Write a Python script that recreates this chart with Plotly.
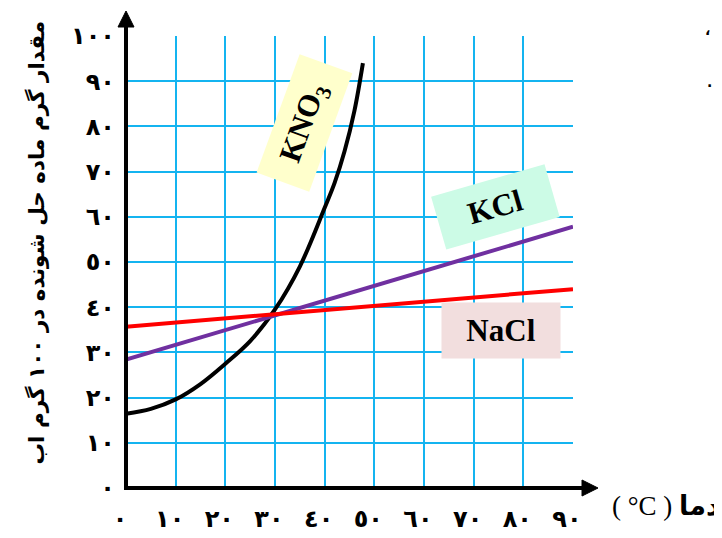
import plotly.graph_objects as go

# solubility data (g per 100 g water)
temps = [0, 90]
nacl = [35.7, 44.0]
kcl = [28.4, 57.8]

kno3_t = [0, 5, 10, 15, 20, 25, 30, 35, 40, 42, 44, 46, 47.7]
kno3 = [16.4, 17.5, 19.6, 23.0, 27.5, 32.5, 39.5, 49.0, 62.0, 67.5, 74.5, 83.5, 94.0]

x_ticks = [0, 10, 20, 30, 40, 50, 60, 70, 80, 90]
x_labels = ['٠', '١٠', '٢٠', '٣٠', '٤٠', '٥٠', '٦٠', '٧٠', '٨٠', '٩٠']
y_ticks = [0, 10, 20, 30, 40, 50, 60, 70, 80, 90, 100]
y_labels = ['٠', '١٠', '٢٠', '٣٠', '٤٠', '٥٠', '٦٠', '٧٠', '٨٠', '٩٠', '١٠٠']

# plot area in page pixels (the html body adds an 8px margin)
OFF = 8
L, R, T, B = 126, 573, 36, 488
W, H = R - L, B - T
FIG_W, FIG_H = 722 - OFF, 538 - OFF


def px(v):
    return (v - L) / W


def py(v):
    return (B - v) / H


fig = go.Figure()
fig.add_trace(go.Scatter(x=kno3_t, y=kno3, mode='lines', line=dict(color='black', width=4, shape='spline')))
fig.add_trace(go.Scatter(x=temps, y=kcl, mode='lines', line=dict(color='#7030a0', width=4)))
fig.add_trace(go.Scatter(x=temps, y=nacl, mode='lines', line=dict(color='#ff0000', width=4)))

grid = '#14b4f0'
tick_font = dict(family='DejaVu Sans', size=24, color='black', weight='bold')

fig.update_xaxes(
    range=[0, 90], tickmode='array', tickvals=x_ticks, ticktext=x_labels,
    showgrid=True, gridcolor=grid, gridwidth=2, zeroline=False, showline=False,
    ticks='', ticklabelstandoff=14, ticklabelshift=-6, tickfont=tick_font,
    automargin=False, fixedrange=True,
)
fig.update_yaxes(
    range=[0, 100], tickmode='array', tickvals=y_ticks, ticktext=y_labels,
    showgrid=True, gridcolor=grid, gridwidth=2, zeroline=False, showline=False,
    ticks='', ticklabelstandoff=10, tickfont=tick_font,
    automargin=False, fixedrange=True,
)

shapes = [
    dict(type='line', xref='paper', yref='paper', x0=px(124), y0=py(488), x1=px(586), y1=py(488),
         line=dict(color='black', width=4)),
    dict(type='path', xref='paper', yref='paper',
         path=f'M {px(582)} {py(480)} L {px(598)} {py(488)} L {px(582)} {py(496)} Z',
         fillcolor='black', line=dict(color='black', width=1)),
    dict(type='line', xref='paper', yref='paper', x0=px(126), y0=py(490), x1=px(126), y1=py(24),
         line=dict(color='black', width=4)),
    dict(type='path', xref='paper', yref='paper',
         path=f'M {px(118)} {py(27)} L {px(126)} {py(11)} L {px(134)} {py(27)} Z',
         fillcolor='black', line=dict(color='black', width=1)),
]

label_font = dict(family='Liberation Serif', size=31, color='black', weight='bold')
annotations = [
    dict(x=36.0, y=80.8, xref='x', yref='y', text='KNO<sub>3</sub>', showarrow=False,
         textangle=-70, bgcolor='#ffffcc', width=121, height=51, borderpad=2, font=label_font),
    dict(x=74.3, y=62.1, xref='x', yref='y', text='KCl', showarrow=False,
         textangle=-16, bgcolor='#ccfbe6', width=113, height=50, borderpad=2, font=label_font),
    dict(x=75.6, y=34.8, xref='x', yref='y', text='NaCl', showarrow=False,
         bgcolor='#f2dede', width=114, height=51, borderpad=2, font=label_font),
    dict(x=px(21), y=py(243), xref='paper', yref='paper',
         text='مقدار گرم ماده حل شونده در ١٠٠ گرم اب', showarrow=False, textangle=-90,
         font=dict(family='DejaVu Sans', size=21.5, color='black', weight='bold')),
    dict(x=px(610), y=py(523), xref='paper', yref='paper', xanchor='left',
         text='( °C ) <b>دما</b>', showarrow=False,
         font=dict(family='Liberation Serif, DejaVu Sans', size=27, color='black')),
    dict(x=px(712), y=py(20), xref='paper', yref='paper', text='<b>،</b>', showarrow=False,
         font=dict(family='DejaVu Sans', size=14, color='black')),
    dict(x=px(714), y=py(72), xref='paper', yref='paper', text='<b>.</b>', showarrow=False,
         font=dict(family='DejaVu Sans', size=14, color='black')),
]

fig.update_layout(
    width=FIG_W, height=FIG_H,
    margin=dict(l=L - OFF, r=722 - R, t=T - OFF, b=538 - B),
    plot_bgcolor='white', paper_bgcolor='white',
    showlegend=False, shapes=shapes, annotations=annotations,
)

fig.write_html('out.html')
